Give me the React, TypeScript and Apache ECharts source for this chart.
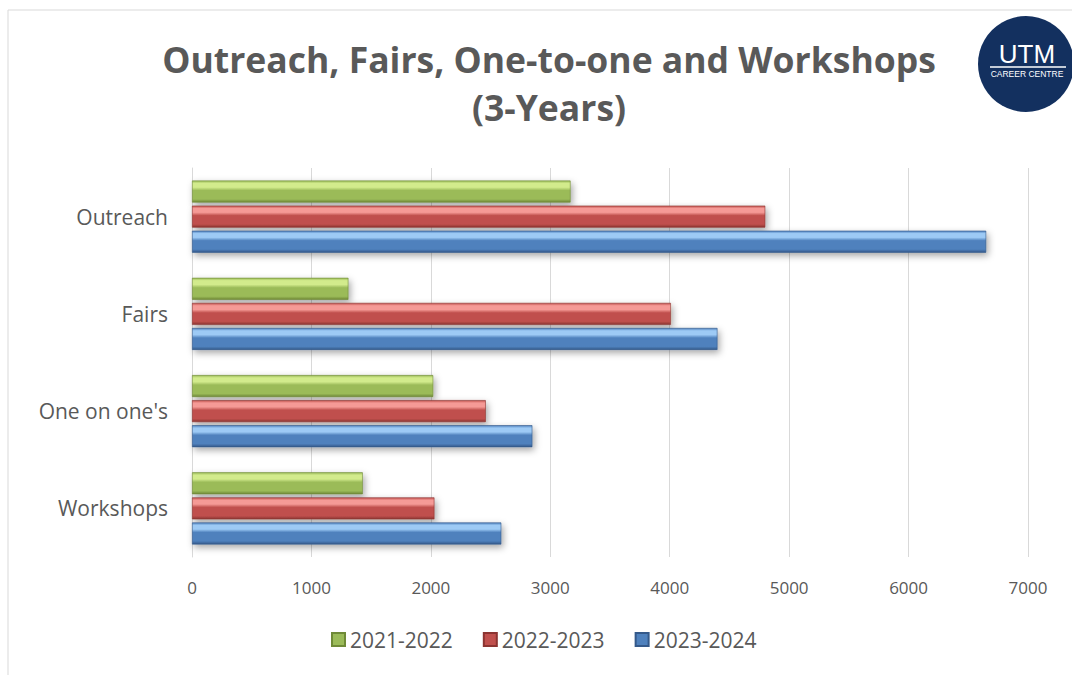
import React, { useEffect, useRef } from "react";
import * as echarts from "echarts";

const categories = ["Outreach", "Fairs", "One on one's", "Workshops"];
const seriesNames = ["2021-2022", "2022-2023", "2023-2024"];
const values2122 = [3170, 1310, 2020, 1430];
const values2223 = [4800, 4010, 2460, 2030];
const values2324 = [6650, 4400, 2850, 2590];
const xTicks = [0, 1000, 2000, 3000, 4000, 5000, 6000, 7000];

const grad = (light: string, mid: string, dark: string) =>
  new echarts.graphic.LinearGradient(0, 0, 0, 1, [
    { offset: 0, color: mid },
    { offset: 0.12, color: light },
    { offset: 0.3, color: light },
    { offset: 0.45, color: mid },
    { offset: 0.85, color: mid },
    { offset: 1, color: dark },
  ]);

const styles = [
  { light: "#d2eb8c", mid: "#9bbb59", dark: "#6f8a37", legend: "#9bbb59" },
  { light: "#f59a96", mid: "#c0504d", dark: "#8c3431", legend: "#c0504d" },
  { light: "#9dcaf5", mid: "#4f81bd", dark: "#34598a", legend: "#4f81bd" },
];

export default function App() {
  const ref = useRef<HTMLDivElement>(null);
  useEffect(() => {
    document.body.style.margin = "0";
    const chart = echarts.init(ref.current!, null, { renderer: "svg" });
    const data = [values2122, values2223, values2324];
    chart.setOption({
      animation: false,
      backgroundColor: "#ffffff",
      title: {
        text: "Outreach, Fairs, One-to-one and Workshops\n(3-Years)",
        left: 544,
        textAlign: "center",
        top: 30,
        textStyle: {
          fontFamily: "Open Sans",
          fontWeight: "bold",
          fontSize: 35.5,
          lineHeight: 48,
          color: "#595959",
        },
      },
      legend: {
        bottom: 20,
        left: 326,
        itemWidth: 13,
        itemHeight: 13,
        itemGap: 30,
        icon: "rect",
        textStyle: { fontFamily: "Open Sans", fontSize: 21, color: "#595959" },
        data: seriesNames.map((n, i) => ({
          name: n,
          itemStyle: { color: styles[i].legend },
        })),
      },
      grid: { left: 192, right: 44, top: 168, bottom: 118, containLabel: false },
      xAxis: {
        type: "value",
        min: 0,
        max: 7000,
        interval: 1000,
        axisLine: { show: false },
        axisTick: { show: false },
        splitLine: { lineStyle: { color: "#d9d9d9", width: 1 } },
        axisLabel: {
          margin: 22,
          fontFamily: "Open Sans",
          fontSize: 17,
          color: "#595959",
          formatter: (v: number) => (xTicks.includes(v) ? String(v) : ""),
        },
      },
      yAxis: {
        type: "category",
        data: categories,
        inverse: true,
        axisLine: { show: true, lineStyle: { color: "#d9d9d9", width: 1 } },
        axisTick: { show: false },
        axisLabel: {
          margin: 24,
          fontFamily: "Open Sans",
          fontSize: 21,
          color: "#595959",
        },
      },
      series: seriesNames.map((n, i) => ({
        name: n,
        type: "bar",
        data: data[i],
        barWidth: 22,
        barGap: "14%",
        barCategoryGap: "26%",
        itemStyle: {
          color: grad(styles[i].light, styles[i].mid, styles[i].dark),
          borderColor: styles[i].dark,
          borderWidth: 0.6,
          shadowColor: "rgba(0,0,0,0.35)",
          shadowBlur: 7,
          shadowOffsetX: 2,
          shadowOffsetY: 3,
        },
      })),
      graphic: [
        {
          type: "rect",
          shape: { x: 8, y: 10, width: 1100, height: 700 },
          style: { fill: "none", stroke: "#d9d9d9", lineWidth: 1 },
          silent: true,
        },
        {
          type: "circle",
          shape: { cx: 1026, cy: 64, r: 48 },
          style: { fill: "#13305f" },
        },
        {
          type: "text",
          x: 1027,
          y: 54,
          style: {
            text: "UTM",
            fill: "#ffffff",
            font: "26px 'Liberation Sans'",
            align: "center",
            verticalAlign: "middle",
          },
        },
        {
          type: "line",
          shape: { x1: 990, y1: 67, x2: 1066, y2: 67 },
          style: { stroke: "#ffffff", lineWidth: 1.5 },
        },
        {
          type: "text",
          x: 1027,
          y: 74,
          style: {
            text: "CAREER CENTRE",
            fill: "#ffffff",
            font: "8.5px 'Liberation Sans'",
            align: "center",
            verticalAlign: "middle",
          },
        },
      ],
    });
    return () => chart.dispose();
  }, []);
  return <div ref={ref} style={{ width: 1072, height: 675 }} />;
}
